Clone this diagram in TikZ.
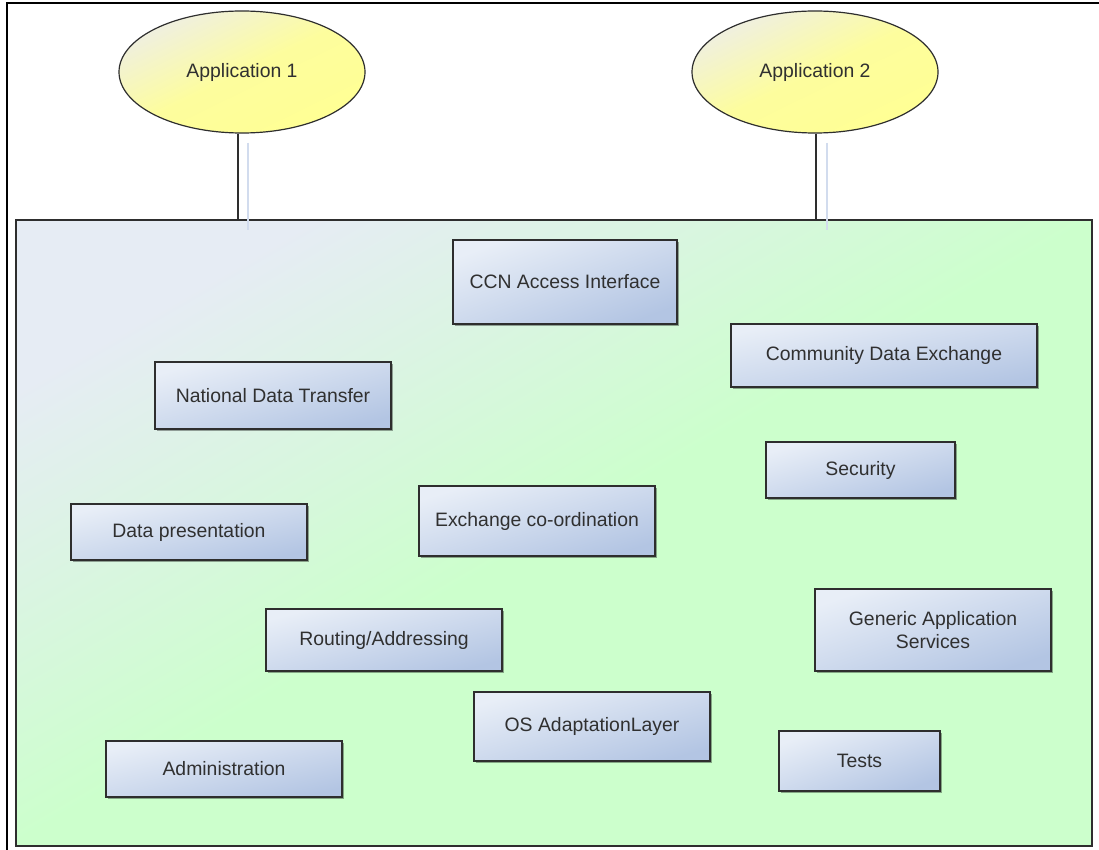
\documentclass[tikz,border=0pt]{standalone}
\usepackage{fontspec}
\setmainfont{Liberation Sans}
\usetikzlibrary{shadows,shapes.geometric,calc}
\definecolor{boxA}{HTML}{E8EEF7}
\definecolor{boxB}{HTML}{B3C5E3}
\definecolor{bgA}{HTML}{E6ECF4}
\definecolor{bgB}{HTML}{CCFFCC}
\definecolor{ylA}{HTML}{EFEFE2}
\definecolor{ylB}{HTML}{FFFF94}
\definecolor{edge}{HTML}{2E2E2E}
\definecolor{txt}{HTML}{303030}
\definecolor{ghost}{HTML}{D2DCEE}
\begin{document}
\begin{tikzpicture}[x=1pt,y=-1pt,
  lbl/.style={font=\fontsize{19.4}{23.5}\selectfont, text=txt, align=center},
  blk/.style={lbl, rectangle, draw=edge, line width=1.3pt, inner sep=0pt,
    top color=boxA, bottom color=boxB, shading angle=#1,
    drop shadow={shadow xshift=1.6pt, shadow yshift=-1.6pt, fill=black, opacity=0.35}},
  blk/.default=16,
  app/.style={lbl, ellipse, draw=edge, line width=1.2pt, inner sep=0pt,
    minimum width=246pt, minimum height=122pt,
    top color=ylA, bottom color=ylB, middle color=ylB!88!ylA, shading angle=26},
  base/.style={rectangle, draw=edge, line width=2pt, inner sep=0pt,
    top color=bgA, bottom color=bgB, middle color=bgB, shading angle=30},
  wire/.style={draw=edge, line width=1.3pt},
  ghostline/.style={draw=ghost, line width=1.2pt}
]
\useasboundingbox (0,0) rectangle (1099,850);
\fill[white] (0,0) rectangle (1099,850);
% outer frame (top and left edges visible)
\draw[line width=1.3pt, black] (7,850) -- (7,3) -- (1099,3);

% base platform
\node[base, minimum width=1076pt, minimum height=626pt] (big) at (554,533) {};

% applications
\node[app] (e1) at (242,72) {Application 1};
\node[app] (e2) at (815,72) {Application 2};

% connectors
\coordinate (t1) at (238,220);
\coordinate (t2) at (816,220);
\draw[wire] (t1 |- e1.south) -- (t1);
\draw[wire] (t2 |- e2.south) -- (t2);
\coordinate (g1a) at (248,143);
\coordinate (g1b) at (248,230);
\coordinate (g2a) at (827,143);
\coordinate (g2b) at (827,230);
\draw[ghostline] (g1a) -- (g1b);
\draw[ghostline] (g2a) -- (g2b);

% components
\node[blk=20.6, minimum width=224pt, minimum height=84pt] (ccn) at (565,282) {CCN Access Interface};
\node[blk=11.6, minimum width=306pt, minimum height=63pt] (cde) at (884,355.5) {Community Data Exchange};
\node[blk=16.5, minimum width=189pt, minimum height=56pt] (sec) at (860.5,470) {Security};
\node[blk=15.8, minimum width=236pt, minimum height=67pt] (ndt) at (273,395.5) {National Data Transfer};
\node[blk=13.3, minimum width=236pt, minimum height=56pt] (dp) at (189,532) {Data presentation};
\node[blk=16.5, minimum width=236pt, minimum height=70pt] (ex) at (537,521) {Exchange co-ordination};
\node[blk=14.7, minimum width=236pt, minimum height=62pt] (rt) at (384,640) {Routing/Addressing};
\node[blk=19.2, minimum width=236pt, minimum height=82pt] (gas) at (933,630) {Generic Application\\Services};
\node[blk=16.3, minimum width=236pt, minimum height=69pt] (os) at (592,726.5) {OS AdaptationLayer};
\node[blk=13.3, minimum width=236pt, minimum height=56pt] (adm) at (224,769) {Administration};
\node[blk=20.4, minimum width=161pt, minimum height=60pt] (tst) at (859.5,761) {Tests};
\end{tikzpicture}
\end{document}
